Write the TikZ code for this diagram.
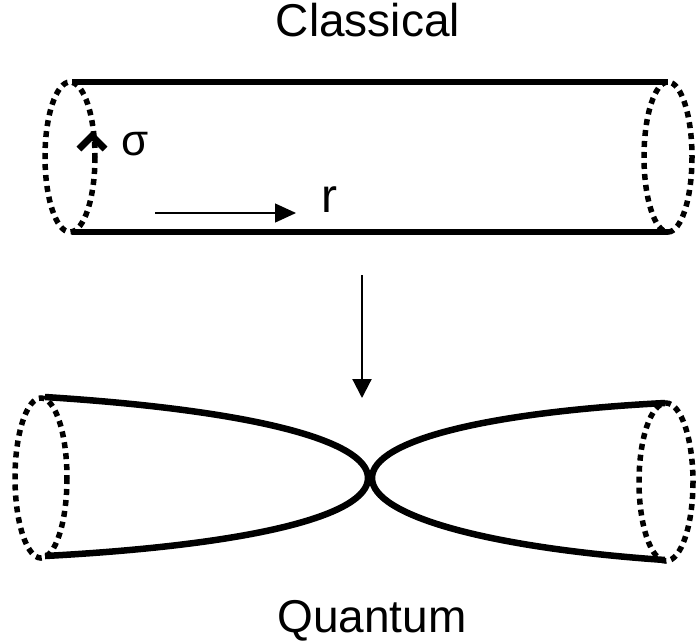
\documentclass[tikz,border=0pt]{standalone}
\usepackage{fontspec}
\setmainfont{Liberation Sans}
\usetikzlibrary{arrows.meta}
\begin{document}
\begin{tikzpicture}[x=1pt,y=-1pt,
  tube/.style={line width=6.5pt},
  rim/.style={line width=5.5pt, dash pattern=on 6pt off 5pt},
  lbl/.style={font=\fontsize{46}{50}\selectfont, anchor=base, inner sep=0pt}]
\useasboundingbox (0,0) rectangle (696,643);
% labels
\node[lbl] (classical) at (368,36) {Classical};
\node[lbl] (quantum) at (372,632) {Quantum};
\node[lbl, font=\fontsize{44}{48}\selectfont] (sigma) at (135,155) {σ};
\node[lbl, font=\fontsize{48}{52}\selectfont] (r) at (329,212) {r};
% classical tube
\coordinate (tl) at (72,82);
\coordinate (tr) at (668,82);
\coordinate (bl) at (72,232);
\coordinate (br) at (668,232);
\draw[tube] (tl) -- (tr);
\draw[tube] (bl) -- (br);
\draw[rim] (70,157) ellipse [x radius=25, y radius=75];
\draw[rim] (668,157) ellipse [x radius=24, y radius=75];
% sigma arrowhead
\draw[line width=7pt, miter limit=10] (79,149) -- (92,136) -- (105,149);
% r arrow
\coordinate (ra) at (155,213);
\coordinate (rb) at (296,213);
\draw[line width=1.3pt, -{Triangle[length=21pt,width=19pt]}] (ra) -- (rb);
% down arrow
\coordinate (da) at (362,275);
\coordinate (db) at (362,398);
\draw[line width=2.2pt, -{Triangle[length=19pt,width=19pt]}] (da) -- (db);
% quantum shape
\coordinate (ql1) at (45,397);
\coordinate (ql2) at (45,556);
\coordinate (qr1) at (665,403);
\coordinate (qr2) at (665,560);
\coordinate (xl) at (368,478);
\coordinate (xr) at (372,478);
\draw[tube] (ql1) .. controls (250,410) and (368,440) .. (xl)
                  .. controls (368,516) and (250,545) .. (ql2);
\draw[tube] (qr1) .. controls (490,412) and (372,440) .. (xr)
                  .. controls (372,516) and (490,548) .. (qr2);
\draw[rim] (41,478) ellipse [x radius=26, y radius=80];
\draw[rim] (666,482) ellipse [x radius=27, y radius=79];
\end{tikzpicture}
\end{document}
